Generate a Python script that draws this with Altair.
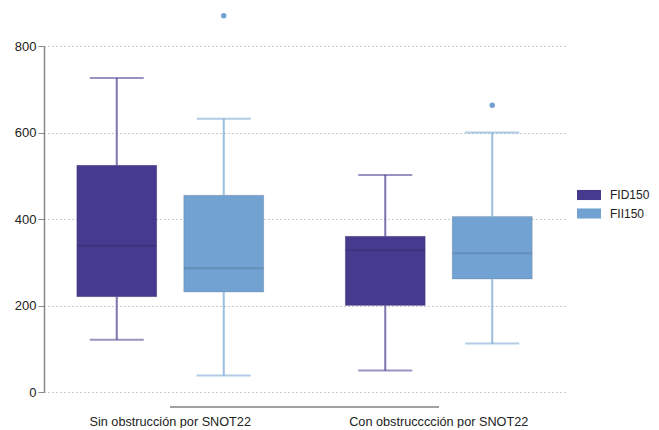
import altair as alt
import pandas as pd

groups = ["Sin obstrucción por SNOT22", "Con obstrucccción por SNOT22"]
series = ["FID150", "FII150"]

box_group = [groups[0], groups[0], groups[1], groups[1]]
box_series = ["FID150", "FII150", "FID150", "FII150"]
whisker_low = [121, 38, 50, 112]
q1 = [220, 231, 200, 261]
median = [338, 286, 328, 321]
q3 = [524, 455, 360, 406]
whisker_high = [726, 632, 502, 600]

outlier_group = [groups[0], groups[1]]
outlier_series = ["FII150", "FII150"]
outlier_value = [870, 663]

colors = ["#463A8E", "#72A2D2"]

df = pd.DataFrame({
    "group": box_group, "series": box_series,
    "low": whisker_low, "q1": q1, "median": median, "q3": q3, "high": whisker_high,
})
df_out = pd.DataFrame({"group": outlier_group, "series": outlier_series, "value": outlier_value})

FONT = "Liberation Sans"

x_enc = alt.X(
    "group:N", sort=groups, title=None,
    scale=alt.Scale(paddingInner=0.2, paddingOuter=0.0702),
    axis=alt.Axis(domain=False, ticks=False, tickSize=0, grid=False, labelPadding=23,
                  labelFont=FONT, labelFontSize=12.7, labelColor="#222222", labelAngle=0),
)
xo_enc = alt.XOffset("series:N", sort=series,
                     scale=alt.Scale(paddingInner=0, paddingOuter=0.004))
color_scale = alt.Scale(domain=series, range=colors)
color_legend = alt.Color(
    "series:N", sort=series, title=None, scale=color_scale,
    legend=alt.Legend(
        orient="none", legendX=533, legendY=137,
        symbolType="M-1,-0.42H1V0.42H-1Z", symbolSize=576,
        symbolStrokeWidth=0, symbolOpacity=1,
        labelFont=FONT, labelFontSize=12, labelColor="#222222",
        labelOffset=9, rowPadding=0.5,
    ),
)
color_plain = alt.Color("series:N", sort=series, scale=color_scale)
y_scale = alt.Scale(domain=[0, 800], nice=False)
y_axis = alt.Axis(values=[0, 200, 400, 600, 800], title=None,
                  domainColor="#888888", domainWidth=1.5,
                  tickColor="#888888", tickSize=6, tickWidth=1,
                  labelFont=FONT, labelFontSize=13, labelColor="#222222", labelPadding=2,
                  grid=True, gridColor="#999999", gridDash=[1, 3], gridWidth=1)

base = alt.Chart(df)

boxes = base.mark_bar(size=80, stroke="#000000", strokeOpacity=0.12, strokeWidth=1).encode(
    x=x_enc, xOffset=xo_enc, y=alt.Y("q1:Q", scale=y_scale, axis=y_axis), y2="q3:Q",
    color=color_legend,
)
stems_low = base.mark_rule(strokeWidth=2, opacity=0.7).encode(
    x=x_enc, xOffset=xo_enc, y=alt.Y("low:Q", scale=y_scale), y2="q1:Q",
    color=color_plain,
)
stems_high = base.mark_rule(strokeWidth=2, opacity=0.7).encode(
    x=x_enc, xOffset=xo_enc, y=alt.Y("q3:Q", scale=y_scale), y2="high:Q",
    color=color_plain,
)
caps_low = base.mark_tick(size=54, thickness=2, opacity=0.55).encode(
    x=x_enc, xOffset=xo_enc, y=alt.Y("low:Q", scale=y_scale),
    color=color_plain,
)
caps_high = base.mark_tick(size=54, thickness=2, opacity=0.55).encode(
    x=x_enc, xOffset=xo_enc, y=alt.Y("high:Q", scale=y_scale),
    color=color_plain,
)
medians = base.mark_tick(size=80, thickness=2, color="#000000", opacity=0.12).encode(
    x=x_enc, xOffset=xo_enc, y=alt.Y("median:Q", scale=y_scale),
)
outliers = alt.Chart(df_out).mark_circle(size=30, opacity=1).encode(
    x=x_enc, xOffset=xo_enc, y=alt.Y("value:Q", scale=y_scale),
    color=color_plain,
)
group_line = alt.Chart(df).mark_rule(color="#a0a0a0", strokeWidth=1.5).encode(
    x=alt.value(126), x2=alt.value(395), y=alt.value(361),
)

chart = alt.layer(boxes, stems_low, stems_high, caps_low, caps_high, medians, outliers, group_line).properties(
    width=521, height=346,
    background="white",
    autosize=alt.AutoSizeParams(type="none"),
    padding={"left": 36, "top": 38, "right": 86, "bottom": 36},
).configure_view(strokeWidth=0, stroke="transparent")

chart.save("out.html", embed_options={"renderer": "svg", "actions": False})
